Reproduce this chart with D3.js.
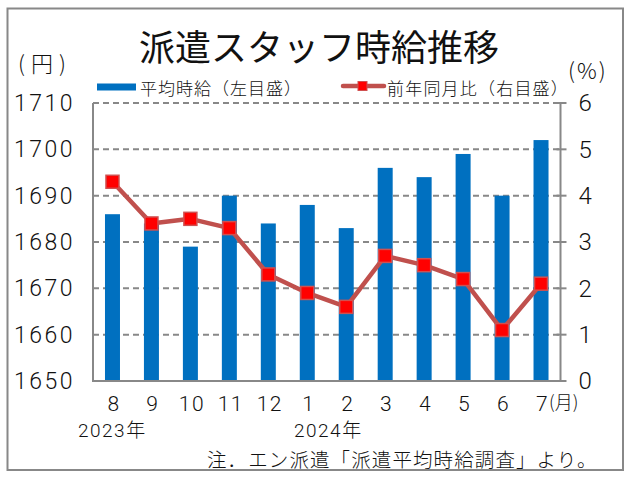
<!DOCTYPE html>
<html><head><meta charset="utf-8">
<script src="https://cdn.jsdelivr.net/npm/d3@7/dist/d3.min.js"></script>
<style>
html,body{margin:0;padding:0;background:#fff;}
svg{display:block;}
</style></head>
<body><svg id="c" width="631" height="478"></svg>
<script>
// ---- data ----
const months = ["8","9","10","11","12","1","2","3","4","5","6","7"];
const wage = [1686,1684,1679,1690,1684,1688,1683,1696,1694,1699,1690,1702];
const yoy = [4.3,3.4,3.5,3.3,2.3,1.9,1.6,2.7,2.5,2.2,1.1,2.1];
const leftTicks = [1650,1660,1670,1680,1690,1700,1710];
const rightTicks = [0,1,2,3,4,5,6];
const title = "派遣スタッフ時給推移";
const legendNames = ["平均時給（左目盛）","前年同月比（右目盛）"];
const yearLabels = ["2023年","2024年"];
const note = "注．エン派遣「派遣平均時給調査」より。";

const JP = "'Noto Sans CJK JP','Noto Sans',sans-serif";
const NUM = "Roboto,'Noto Sans CJK JP',sans-serif";
const svg = d3.select("#c");
const L=93, R=560.5, T=103, B=381;

svg.append("rect").attr("width",631).attr("height",478).attr("fill","#fff");
svg.append("rect").attr("x",7.5).attr("y",8.5).attr("width",615.5).attr("height",461.5)
  .attr("fill","none").attr("stroke","#888").attr("stroke-width",2);

const x = d3.scaleBand().domain(months).range([L,R]).paddingInner(0).paddingOuter(0);
const yL = d3.scaleLinear().domain([1650,1710]).range([B,T]);
const yR = d3.scaleLinear().domain([0,6]).range([B,T]);

// gridlines
svg.append("g").selectAll("line").data(leftTicks.slice(1)).join("line")
  .attr("x1",L).attr("x2",R).attr("y1",d=>yL(d)).attr("y2",d=>yL(d))
  .attr("stroke","#888").attr("stroke-width",2).attr("stroke-dasharray","6,4");

// bars
const bw = x.bandwidth()*0.385;
svg.append("g").selectAll("rect").data(wage).join("rect")
  .attr("x",(d,i)=>x(months[i])+x.bandwidth()/2-bw/2)
  .attr("width",bw)
  .attr("y",d=>yL(d)).attr("height",d=>B-yL(d))
  .attr("fill","#0070C0");

// axes lines
const ax = svg.append("g").attr("stroke","#888").attr("stroke-width",2);
ax.append("line").attr("x1",L).attr("x2",L).attr("y1",T).attr("y2",B+1);
ax.append("line").attr("x1",R).attr("x2",R).attr("y1",T).attr("y2",B+1);
ax.append("line").attr("x1",L-1).attr("x2",R+1).attr("y1",B).attr("y2",B);
ax.selectAll("line.tk").data(rightTicks).join("line").attr("class","tk")
  .attr("x1",R-4).attr("x2",R+6).attr("y1",d=>yR(d)).attr("y2",d=>yR(d));

const thin = 300;
// left axis labels
svg.append("g").call(d3.axisLeft(yL).tickValues(leftTicks).tickSize(0).tickPadding(0).tickFormat(d3.format("d")))
  .attr("transform",`translate(${L-18},0)`)
  .call(g=>g.select(".domain").remove())
  .selectAll("text").attr("font-family",NUM).attr("font-weight",thin).attr("font-size",23)
  .attr("letter-spacing",2.5).attr("fill","#111");
// right axis labels
svg.append("g").call(d3.axisRight(yR).tickValues(rightTicks).tickSize(0).tickPadding(0).tickFormat(d3.format("d")))
  .attr("transform",`translate(${R+18},0)`)
  .call(g=>g.select(".domain").remove())
  .selectAll("text").attr("font-family",NUM).attr("font-weight",thin).attr("font-size",24).attr("fill","#111");
// x axis labels
svg.append("g").call(d3.axisBottom(x).tickSize(0).tickPadding(0))
  .attr("transform",`translate(1.5,${B+15})`)
  .call(g=>g.select(".domain").remove())
  .selectAll("text").attr("font-family",NUM).attr("font-weight",thin).attr("font-size",21)
  .attr("letter-spacing",1.5).attr("fill","#111");

// line + markers
const line = d3.line().x((d,i)=>x(months[i])+x.bandwidth()/2).y(d=>yR(d));
svg.append("path").datum(yoy).attr("d",line).attr("fill","none")
  .attr("stroke","#C0504D").attr("stroke-width",4.5).attr("stroke-linejoin","round");
const ms = 13;
svg.append("g").selectAll("rect").data(yoy).join("rect")
  .attr("x",(d,i)=>x(months[i])+x.bandwidth()/2-ms/2)
  .attr("y",d=>yR(d)-ms/2).attr("width",ms).attr("height",ms)
  .attr("fill","#FF0000").attr("stroke","#D05050").attr("stroke-width",1.5);

// title
svg.append("text").attr("x",319).attr("y",45).attr("text-anchor","middle")
  .attr("dominant-baseline","central").attr("font-family",JP).attr("font-size",36)
  .attr("fill","#111").text(title);
// unit labels
svg.append("text").attr("x",18).attr("y",62)
  .attr("dominant-baseline","central").attr("font-family",JP).attr("font-weight",thin).attr("font-size",22)
  .attr("letter-spacing",6).attr("fill","#111").text("(円)");
svg.append("text").attr("x",568).attr("y",69)
  .attr("dominant-baseline","central").attr("font-family",JP).attr("font-weight",thin).attr("font-size",22)
  .attr("letter-spacing",2).attr("fill","#111").text("(%)");

// legend
svg.append("rect").attr("x",97).attr("y",83.5).attr("width",39).attr("height",7).attr("fill","#0070C0");
svg.append("text").attr("x",140).attr("y",87).attr("dominant-baseline","central")
  .attr("font-family",JP).attr("font-weight",thin).attr("font-size",17).attr("letter-spacing",1)
  .attr("fill","#111").text(legendNames[0]);
svg.append("line").attr("x1",343).attr("x2",384).attr("y1",86).attr("y2",86)
  .attr("stroke","#C0504D").attr("stroke-width",4.5).attr("stroke-linecap","round");
svg.append("rect").attr("x",358).attr("y",81.5).attr("width",9).attr("height",9)
  .attr("fill","#FF0000").attr("stroke","#D05050").attr("stroke-width",1);
svg.append("text").attr("x",387).attr("y",87).attr("dominant-baseline","central")
  .attr("font-family",JP).attr("font-weight",thin).attr("font-size",17).attr("letter-spacing",1.2)
  .attr("fill","#111").text(legendNames[1]);

// month unit
svg.append("text").attr("x",x("7")+x.bandwidth()/2+8).attr("y",B+15).attr("dy","0.71em")
  .attr("font-family",JP).attr("font-weight",thin).attr("font-size",18).attr("fill","#111").text("(月)");
// years
svg.append("text").attr("x",78).attr("y",430).attr("dominant-baseline","central")
  .attr("font-family",NUM).attr("font-weight",thin).attr("font-size",19).attr("letter-spacing",1.5)
  .attr("fill","#111").text(yearLabels[0]);
svg.append("text").attr("x",294).attr("y",430).attr("dominant-baseline","central")
  .attr("font-family",NUM).attr("font-weight",thin).attr("font-size",19).attr("letter-spacing",1.5)
  .attr("fill","#111").text(yearLabels[1]);
// note
svg.append("text").attr("x",207).attr("y",458).attr("dominant-baseline","central")
  .attr("font-family",JP).attr("font-weight",thin).attr("font-size",19.5).attr("letter-spacing",1.1)
  .attr("fill","#111").text(note);
</script></body></html>
